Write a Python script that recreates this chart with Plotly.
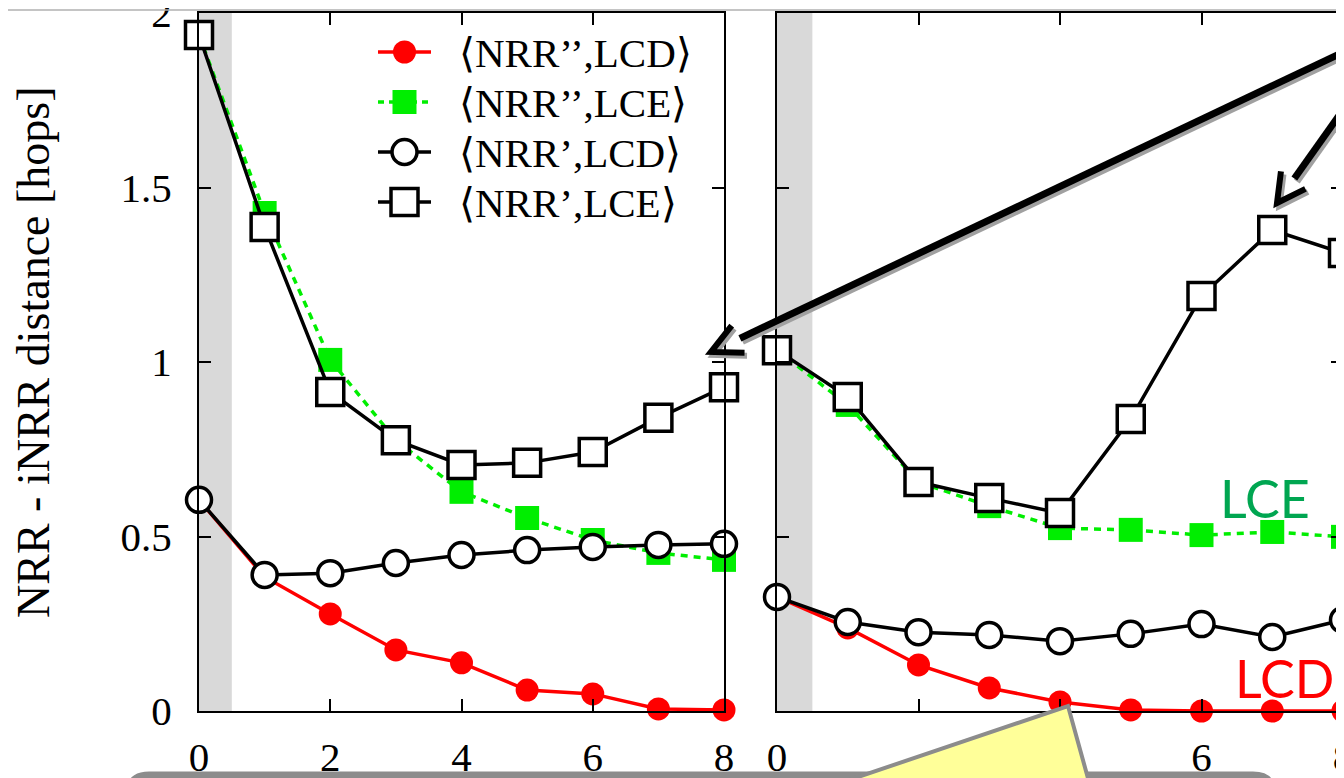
import plotly.graph_objects as go

W, H = 1344, 778
OFF = 8  # page body margin in the browser

# ---------------- data ----------------
x_vals = [0, 1, 2, 3, 4, 5, 6, 7, 8]

left_nrr2_lcd = [0.605, 0.384, 0.278, 0.175, 0.138, 0.060, 0.049, 0.006, 0.003]
left_nrr2_lce = [1.937, 1.427, 1.006, 0.776, 0.628, 0.553, 0.490, 0.453, 0.433]
left_nrr1_lcd = [0.605, 0.390, 0.395, 0.424, 0.447, 0.461, 0.470, 0.476, 0.479]
left_nrr1_lce = [1.937, 1.387, 0.914, 0.776, 0.705, 0.711, 0.742, 0.840, 0.928]

right_nrr2_lcd = [0.327, 0.238, 0.132, 0.066, 0.026, 0.003, 0.0, 0.0, 0.0]
right_nrr2_lce = [1.034, 0.877, 0.656, 0.587, 0.524, 0.519, 0.504, 0.513, 0.499]
right_nrr1_lcd = [0.327, 0.255, 0.226, 0.218, 0.200, 0.221, 0.249, 0.212, 0.261]
right_nrr1_lce = [1.034, 0.900, 0.656, 0.610, 0.567, 0.837, 1.189, 1.378, 1.312]

series_names = ["\u27e8NRR\u2019\u2019,LCD\u27e9", "\u27e8NRR\u2019\u2019,LCE\u27e9",
                "\u27e8NRR\u2019,LCD\u27e9", "\u27e8NRR\u2019,LCE\u27e9"]
x_ticks = [0, 2, 4, 6, 8]
x_tick_labels_left = ["0", "2", "4", "6", "8"]
x_tick_labels_right = ["0", "", "", "6", "8"]   # 2 and 4 hidden under the callout
y_ticks = [0, 0.5, 1, 1.5, 2]
y_tick_labels = ["0", "0.5", "1", "1.5", "2"]
y_title = "NRR - iNRR distance [hops]"

# ---------------- helpers (reference pixel -> paper) ----------------
def px(x):
    return (x - OFF) / W

def py(y):
    return 1 - (y - OFF) / H

SERIF = "Liberation Serif"
RED = "#ff0000"
GREEN = "#00ee00"

styles = [
    dict(line=dict(color=RED, width=3.5), marker=dict(symbol="circle", size=23, color=RED)),
    dict(line=dict(color=GREEN, width=3.5, dash="7px,6px"),
         marker=dict(symbol="square", size=24, color=GREEN)),
    dict(line=dict(color="black", width=3.5),
         marker=dict(symbol="circle", size=25, color="white", line=dict(color="black", width=3.5))),
    dict(line=dict(color="black", width=3.5),
         marker=dict(symbol="square", size=27, color="white", line=dict(color="black", width=3.5))),
]

fig = go.Figure()

left = [left_nrr2_lcd, left_nrr2_lce, left_nrr1_lcd, left_nrr1_lce]
right = [right_nrr2_lcd, right_nrr2_lce, right_nrr1_lcd, right_nrr1_lce]

for i, (name, ys) in enumerate(zip(series_names, left)):
    fig.add_trace(go.Scatter(x=x_vals, y=ys, name=name, mode="lines+markers",
                             xaxis="x", yaxis="y", cliponaxis=False,
                             showlegend=False, **styles[i]))
for i, (name, ys) in enumerate(zip(series_names, right)):
    fig.add_trace(go.Scatter(x=x_vals, y=ys, name=name, mode="lines+markers",
                             xaxis="x2", yaxis="y2", cliponaxis=False,
                             showlegend=False, **styles[i]))

axis_common = dict(
    range=[0, 8], tickvals=x_ticks, ticks="inside", ticklen=12, tickwidth=1.5,
    tickcolor="black", showline=True, linecolor="black", linewidth=2, mirror="ticks",
    showgrid=False, zeroline=False, layer="above traces",
    tickfont=dict(family=SERIF, size=41, color="black"), ticklabelstandoff=9,
    ticklabeloverflow="allow",
)
yaxis_common = dict(
    range=[0, 2], tickvals=y_ticks, ticktext=y_tick_labels, ticks="inside", ticklen=12,
    tickwidth=1.5, tickcolor="black", showline=True, linecolor="black", linewidth=2,
    mirror="ticks", showgrid=False, zeroline=False, layer="above traces",
    tickfont=dict(family=SERIF, size=41, color="black"), ticklabelstandoff=17,
    ticklabeloverflow="allow",
    domain=[py(711), py(13)],
)

fig.update_layout(
    width=W, height=H, margin=dict(l=0, r=0, t=0, b=0),
    paper_bgcolor="white", plot_bgcolor="white",
    xaxis=dict(domain=[px(199), px(724)], anchor="y", automargin=False,
               ticktext=x_tick_labels_left, **axis_common),
    xaxis2=dict(domain=[px(777), px(1343)], anchor="y2", automargin=False,
                ticktext=x_tick_labels_right, **axis_common),
    yaxis=dict(anchor="x", automargin=False, **yaxis_common),
    yaxis2=dict(anchor="x2", automargin=False, showticklabels=False, **yaxis_common),
    showlegend=False,
)

shapes = []
# grey bands x in [0, 0.5]
for xr, yr in (("x", "y domain"), ("x2", "y2 domain")):
    shapes.append(dict(type="rect", xref=xr, yref=yr, x0=0, x1=0.5, y0=0, y1=1,
                       fillcolor="#d9d9d9", line=dict(width=0), layer="below"))

# faint top line of the slide
shapes.append(dict(type="line", xref="paper", yref="paper", x0=0, x1=1.02, y0=py(10), y1=py(10),
                   line=dict(color="#b0b0b0", width=1.5)))

# ---------------- manual legend ----------------
legend_rows = [52, 102, 152, 202]
annotations = []
for i, yy in enumerate(legend_rows):
    st = styles[i]
    ln = st["line"]
    shapes.append(dict(type="line", xref="paper", yref="paper", x0=px(378), x1=px(431),
                       y0=py(yy), y1=py(yy),
                       line=dict(color=ln["color"], width=ln["width"],
                                 dash="6px,5px" if "dash" in ln else "solid")))
    cx = 404.5
    mk = st["marker"]
    half = mk["size"] / 2
    kind = "circle" if mk["symbol"] == "circle" else "rect"
    mline = mk.get("line", None)
    shapes.append(dict(type=kind, xref="paper", yref="paper",
                       x0=px(cx - half), x1=px(cx + half), y0=py(yy + half), y1=py(yy - half),
                       fillcolor=mk["color"],
                       line=dict(color=mline["color"] if mline else mk["color"],
                                 width=mline["width"] if mline else 0)))
    annotations.append(dict(text=series_names[i], xref="paper", yref="paper",
                            x=px(457), y=py(yy + 1), showarrow=False, xanchor="left",
                            yanchor="middle", font=dict(family=SERIF, size=41, color="black")))


def arrow(tail, tip, back_len=30, half_w=15, width=7, head_w=6):
    (tx, ty), (hx, hy) = tail, tip
    dx, dy = hx - tx, hy - ty
    L = (dx * dx + dy * dy) ** 0.5
    ux, uy = dx / L, dy / L
    bx, by = hx - back_len * ux, hy - back_len * uy
    a1 = (bx + half_w * uy, by - half_w * ux)
    a2 = (bx - half_w * uy, by + half_w * ux)
    sx, sy = hx - (back_len + 2) * ux, hy - (back_len + 2) * uy
    out = []
    for off, col in (((2.5, 3), "#a0a0a0"), ((0, 0), "black")):
        ox, oy = off
        out.append(dict(type="line", xref="paper", yref="paper",
                        x0=px(tx + ox), y0=py(ty + oy), x1=px(sx + ox), y1=py(sy + oy),
                        line=dict(color=col, width=width)))
        path = "M {} {} L {} {} L {} {}".format(
            px(a1[0] + ox), py(a1[1] + oy), px(hx + ox), py(hy + oy), px(a2[0] + ox), py(a2[1] + oy))
        out.append(dict(type="path", xref="paper", yref="paper", path=path,
                        line=dict(color=col, width=head_w)))
    return out

shapes += arrow((1352, 48), (711, 352))
shapes += arrow((1350, 100), (1277, 203), back_len=28, half_w=15)

# grey rounded box at the bottom
r = 22
bx0, bx1, by0, by1 = 127, 1275, 773, 830
box_path = ("M {} {} L {} {} Q {} {} {} {} L {} {} L {} {} L {} {} Q {} {} {} {} Z").format(
    px(bx0 + r), py(by0), px(bx1 - r), py(by0), px(bx1), py(by0), px(bx1), py(by0 + r),
    px(bx1), py(by1), px(bx0), py(by1), px(bx0), py(by0 + r), px(bx0), py(by0), px(bx0 + r), py(by0))
shapes.append(dict(type="path", xref="paper", yref="paper", path=box_path,
                   fillcolor="#8c8c8c", line=dict(color="#8c8c8c", width=3)))

# yellow callout pointer
call_path = "M {} {} L {} {} L {} {} Z".format(px(790), py(800), px(1068), py(706), px(1094), py(800))
shapes.append(dict(type="path", xref="paper", yref="paper", path=call_path,
                   fillcolor="#ffff99", line=dict(color="#8c8c8c", width=4)))

fig.update_layout(shapes=shapes)

annotations += [
    dict(text=y_title, xref="paper", yref="paper", x=px(34), y=py(352), showarrow=False,
         textangle=-90, font=dict(family=SERIF, size=46, color="black"),
         xanchor="center", yanchor="middle"),
    dict(text="LCE", xref="paper", yref="paper", x=px(1265), y=py(498), showarrow=False,
         font=dict(family="Lato", size=52, color="#00a651"), xanchor="center", yanchor="middle"),
    dict(text="LCD", xref="paper", yref="paper", x=px(1284), y=py(678), showarrow=False,
         font=dict(family="Lato", size=52, color="#ff0000"), xanchor="center", yanchor="middle"),
]
fig.update_layout(annotations=annotations)

fig.write_html("out.html")
